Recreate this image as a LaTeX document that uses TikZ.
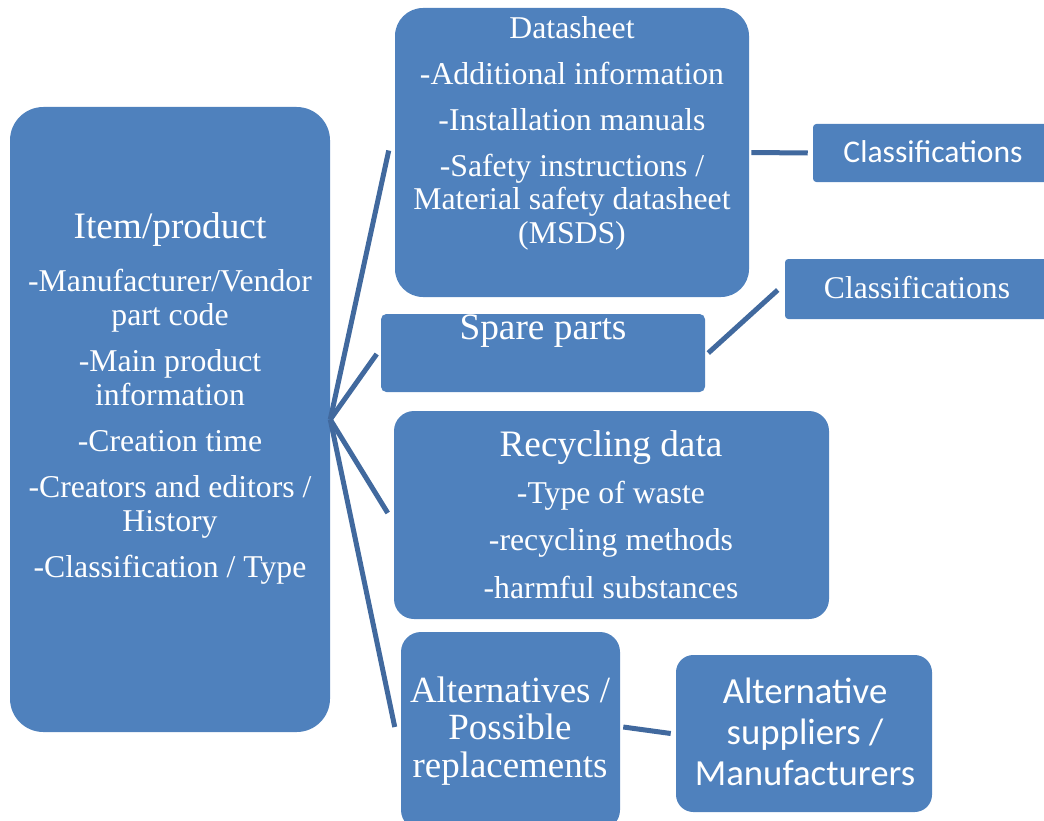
\documentclass[tikz,border=0pt]{standalone}
\usepackage{fontspec}
\setmainfont{Liberation Serif}
\newfontfamily\calibri{Carlito}
\usetikzlibrary{fit,calc}
\definecolor{boxblue}{HTML}{4F81BD}
\definecolor{linkblue}{HTML}{41699E}
\begin{document}
\begin{tikzpicture}[x=0.75pt,y=-0.75pt,
  box/.style={fill=boxblue, draw=none, inner sep=0pt, rectangle},
  label/.style={text=white, align=center, inner sep=0pt, anchor=base},
  link/.style={draw=linkblue, line width=3.75pt},
]
\useasboundingbox (0,0) rectangle (1044,820);

% boxes
\node[box, rounded corners=25pt, fit={(10,107) (330,732)}] (item) {};
\node[box, rounded corners=21pt, fit={(395,8) (749,297)}] (ds) {};
\node[box, rounded corners=2.5pt, fit={(813,124) (1050,182)}] (cA) {};
\node[box, rounded corners=2.5pt, fit={(785,259) (1050,319)}] (cB) {};
\node[box, rounded corners=4pt, fit={(381,314) (705,392)}] (spare) {};
\node[box, rounded corners=15pt, fit={(394,411) (829,619)}] (rec) {};
\node[box, rounded corners=15pt, fit={(401,632) (620,830)}] (alt) {};
\node[box, rounded corners=13pt, fit={(676,655) (932,812)}] (sup) {};

% connectors
\draw[link] (item.east) -- ($(ds.west)+(-6,-2)$);
\draw[link] (item.east) -- ($(spare.west)+(-4,1)$);
\draw[link] (item.east) -- ($(rec.west)+(-6,-2)$);
\draw[link] (item.east) -- ($(alt.west)+(-6,-4)$);
\draw[link] ($(ds.east)+(2,0)$) -- ($(cA.west)+(-5,0)$);
\draw[link] ($(spare.east)+(3,0)$) -- ($(cB.west)+(-7,1)$);
\draw[link] ($(alt.east)+(3,-4)$) -- ($(sup.west)+(-5,0)$);

% texts (multi-line labels are placed by the baseline of their last line)
\node[label, font=\fontsize{23.8pt}{25.5pt}\selectfont] (itemtxt) at (170,577)
  {{\fontsize{28pt}{28pt}\selectfont Item/product}\\[14.25pt]
   -Manufacturer/Vendor\\ part code\\[9pt]
   -Main product\\ information\\[9pt]
   -Creation time\\[9pt]
   -Creators and editors /\\ History\\[9pt]
   -Classification / Type};
\node[label, font=\fontsize{23.8pt}{25pt}\selectfont] (dstxt) at (572,243)
  {Datasheet\\[9.5pt]
   -Additional information\\[9.5pt]
   -Installation manuals\\[9.5pt]
   -Safety instructions /\\ Material safety datasheet\\ (MSDS)};
\node[label, font=\calibri\fontsize{23.7pt}{25pt}\selectfont] (cAtxt) at (933,162) {Classifications};
\node[label, font=\fontsize{23.7pt}{25pt}\selectfont] (cBtxt) at (917,298) {Classifications};
\node[label, font=\fontsize{28pt}{28pt}\selectfont] (sparetxt) at (543,339) {Spare parts};
\node[label, font=\fontsize{23.8pt}{35.5pt}\selectfont] (rectxt) at (611,598)
  {{\fontsize{28pt}{28pt}\selectfont Recycling data}\\
   -Type of waste\\ -recycling methods\\ -harmful substances};
\node[label, font=\fontsize{27.7pt}{28pt}\selectfont] (alttxt) at (510,777)
  {Alternatives /\\ Possible\\ replacements};
\node[label, font=\calibri\fontsize{27.6pt}{30.75pt}\selectfont] (suptxt) at (805,785)
  {Alternative\\ suppliers /\\ Manufacturers};
\end{tikzpicture}
\end{document}
